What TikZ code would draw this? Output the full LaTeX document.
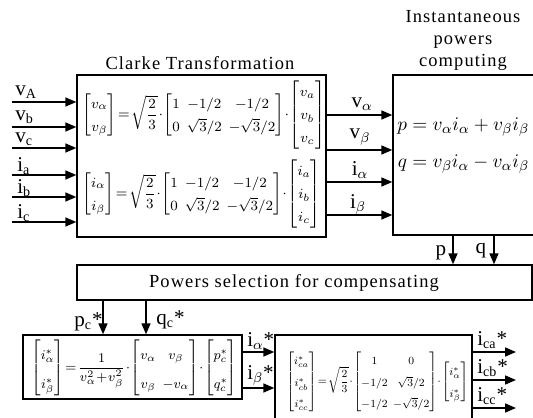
\documentclass[tikz,border=0pt]{standalone}
\usepackage{amsmath}
\usepackage{graphicx}
\usepackage{fontspec}
\setmainfont{Liberation Serif}
\usetikzlibrary{arrows.meta}
\newcommand{\mtx}[1]{\left[\begin{matrix}#1\end{matrix}\right]}
\newcommand{\tightmath}[1]{\medmuskip=1mu\thickmuskip=2mu\arraycolsep=2pt\def\arraystretch{#1}}
\begin{document}
\begin{tikzpicture}[
    x=0.02cm, y=-0.02cm,
    >={Triangle[length=2.2mm,width=1.8mm]},
    every node/.style={font=\fontsize{10}{12.5}\selectfont, inner sep=0pt},
    blok/.style={draw, line width=0.8pt},
    sig/.style={->, line width=0.9pt},
    lbl/.style={font=\fontsize{12}{13}\selectfont},
    ttl/.style={font=\fontsize{10.5}{12.5}\selectfont\addfontfeature{LetterSpace=6}},
    eqn/.style={font=\fontsize{8.5}{10.5}\selectfont, anchor=west}
]
\clip (0,0) rectangle (533,418);

% boxes
\node[blok, minimum width=4.98cm, minimum height=3.24cm] (clarke) at (201.5,156) {};
\node[blok, minimum width=3.04cm, minimum height=3.2cm] (inst) at (469,155) {};
\node[blok, minimum width=9.1cm, minimum height=0.7cm] (powsel) at (304.5,282.5) {};
\node[blok, minimum width=4.38cm, minimum height=1.28cm] (calc) at (132.5,367) {};
\node[blok, minimum width=3.94cm, minimum height=2.1cm] (invcl) at (373.5,387.5) {};

% titles
\node[ttl] (tclarke) at (200,63) {Clarke Transformation};
\node[ttl, align=center] (tinst) at (463,40) {Instantaneous\\powers\\computing};
\node[ttl] (tpowsel) at (294,283) {Powers selection for compensating};

% equations
\node[eqn] (eqv) at (82,115) {$\tightmath{1.25}\displaystyle\mtx{v_\alpha\\ v_\beta}
  = \sqrt{\frac{2}{3}}\cdot\mtx{1 & -1/2 & -1/2\\ 0 & \sqrt{3}/2 & -\sqrt{3}/2}
  \cdot\mtx{v_a\\ v_b\\ v_c}$};
\node[eqn] (eqi) at (82,194) {$\tightmath{1.25}\displaystyle\mtx{i_\alpha\\ i_\beta}
  = \sqrt{\frac{2}{3}}\cdot\mtx{1 & -1/2 & -1/2\\ 0 & \sqrt{3}/2 & -\sqrt{3}/2}
  \cdot\mtx{i_a\\ i_b\\ i_c}$};
\node[font=\fontsize{11}{15}\selectfont, anchor=west] (eqpq) at (397,144) {$\begin{aligned}
  p &= v_\alpha i_\alpha + v_\beta i_\beta\\[3pt] q &= v_\beta i_\alpha - v_\alpha i_\beta\end{aligned}$};
\node[eqn] (eqc) at (31,368) {\resizebox{4.12cm}{!}{$\tightmath{1.65}\displaystyle\mtx{i^*_\alpha\\ i^*_\beta}
  = \frac{1}{v_\alpha^2+v_\beta^2}\cdot\mtx{v_\alpha & v_\beta\\ v_\beta & -v_\alpha}
  \cdot\mtx{p^*_c\\ q^*_c}$}};
\node[eqn] (eqr) at (286,382) {\resizebox{3.64cm}{!}{$\tightmath{1.5}\displaystyle\mtx{i^*_{ca}\\ i^*_{cb}\\ i^*_{cc}}
  = \sqrt{\frac{2}{3}}\cdot\mtx{1 & 0\\ -1/2 & \sqrt{3}/2\\ -1/2 & -\sqrt{3}/2}
  \cdot\mtx{i^*_\alpha\\ i^*_\beta}$}};

% inputs
\coordinate (inA) at (12,102);
\coordinate (inB) at (12,127);
\coordinate (inC) at (12,148);
\coordinate (ina) at (12,175);
\coordinate (inb) at (12,197);
\coordinate (inc) at (12,222);
\draw[sig] (inA) -- (inA -| clarke.west);
\draw[sig] (inB) -- (inB -| clarke.west);
\draw[sig] (inC) -- (inC -| clarke.west);
\draw[sig] (ina) -- (ina -| clarke.west);
\draw[sig] (inb) -- (inb -| clarke.west);
\draw[sig] (inc) -- (inc -| clarke.west);
\node[lbl, anchor=west] (lA) at (15,92) {v\textsubscript{A}};
\node[lbl, anchor=west] (lB) at (15,117) {v\textsubscript{b}};
\node[lbl, anchor=west] (lC) at (15,139) {v\textsubscript{c}};
\node[lbl, anchor=west] (la) at (17,166) {i\textsubscript{a}};
\node[lbl, anchor=west] (lb) at (17,188) {i\textsubscript{b}};
\node[lbl, anchor=west] (lc) at (17,213) {i\textsubscript{c}};

% clarke -> powers computing
\coordinate (va) at (326,115);
\coordinate (vb) at (326,150);
\coordinate (ia) at (326,182);
\coordinate (ib) at (326,215);
\draw[sig] (va) -- (va -| inst.west);
\draw[sig] (vb) -- (vb -| inst.west);
\draw[sig] (ia) -- (ia -| inst.west);
\draw[sig] (ib) -- (ib -| inst.west);
\node[lbl] (lva) at (362,104) {v\textsubscript{$\alpha$}};
\node[lbl] (lvb) at (360,137) {v\textsubscript{$\beta$}};
\node[lbl] (lia) at (360,170) {i\textsubscript{$\alpha$}};
\node[lbl] (lib) at (358,204) {i\textsubscript{$\beta$}};

% p, q
\coordinate (pp) at (453,235);
\coordinate (qq) at (494,235);
\draw[sig] (pp) -- (pp |- powsel.north);
\draw[sig] (qq) -- (qq |- powsel.north);
\node[lbl] (lp) at (441,253) {p};
\node[lbl] (lq) at (481,251) {q};

% references
\coordinate (pc) at (103,300);
\coordinate (qc) at (146,300);
\draw[sig] (pc) -- (pc |- calc.north);
\draw[sig] (qc) -- (qc |- calc.north);
\node[lbl, anchor=east] (lpc) at (103,322) {p\textsubscript{c}*};
\node[lbl, anchor=west] (lqc) at (156,320) {q\textsubscript{c}*};

% alpha-beta references
\coordinate (ras) at (242,352);
\coordinate (rbs) at (242,388);
\draw[sig] (ras) -- (ras -| invcl.west);
\draw[sig] (rbs) -- (rbs -| invcl.west);
\node[lbl, anchor=west] (lras) at (247,341) {i\textsubscript{$\alpha$}*};
\node[lbl, anchor=west] (lrbs) at (247,375) {i\textsubscript{$\beta$}*};

% outputs
\coordinate (oa) at (472,352);
\coordinate (ob) at (472,380);
\coordinate (oc) at (472,408);
\draw[sig] (oa) -- ++(44,0);
\draw[sig] (ob) -- ++(44,0);
\draw[sig] (oc) -- ++(44,0);
\node[lbl, anchor=west] (loa) at (477,340) {i\textsubscript{ca}*};
\node[lbl, anchor=west] (lob) at (477,368) {i\textsubscript{cb}*};
\node[lbl, anchor=west] (loc) at (477,396) {i\textsubscript{cc}*};
\end{tikzpicture}
\end{document}
